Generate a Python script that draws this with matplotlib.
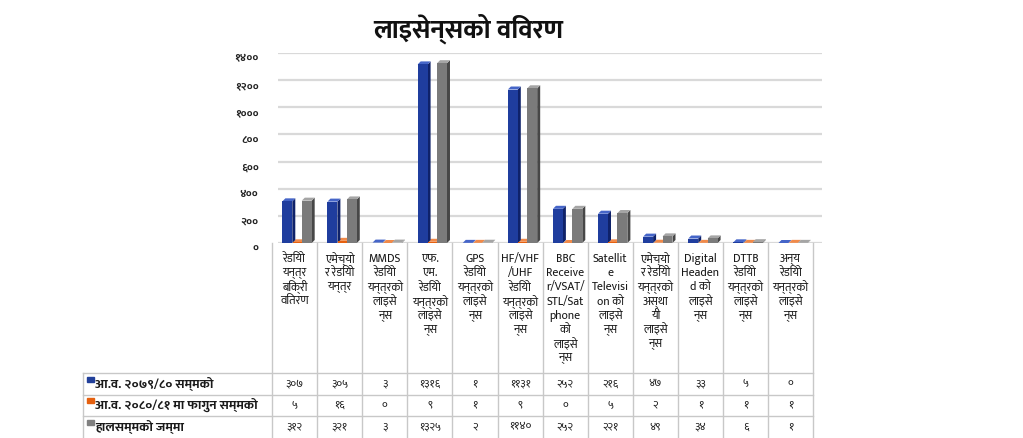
import matplotlib
matplotlib.use("Agg")
import matplotlib.pyplot as plt
from matplotlib.patches import Polygon, Rectangle
from matplotlib.transforms import ScaledTranslation

# --- data -----------------------------------------------------------------
title = "लाइसेन्सको विवरण"

categories = [
    ["रेडियो", "यन्त्र", "बिक्री", "वितरण"],
    ["एमेच्यो", "र रेडियो", "यन्त्र"],
    ["MMDS", "रेडियो", "यन्त्रको", "लाइसे", "न्स"],
    ["एफ.", "एम.", "रेडियो", "यन्त्रको", "लाइसे", "न्स"],
    ["GPS", "रेडियो", "यन्त्रको", "लाइसे", "न्स"],
    ["HF/VHF", "/UHF", "रेडियो", "यन्त्रको", "लाइसे", "न्स"],
    ["BBC", "Receive", "r/VSAT/", "STL/Sat", "phone", "को", "लाइसे", "न्स"],
    ["Satellit", "e", "Televisi", "on को", "लाइसे", "न्स"],
    ["एमेच्यो", "र रेडियो", "यन्त्रको", "अस्था", "यी", "लाइसे", "न्स"],
    ["Digital", "Headen", "d को", "लाइसे", "न्स"],
    ["DTTB", "रेडियो", "यन्त्रको", "लाइसे", "न्स"],
    ["अन्य", "रेडियो", "यन्त्रको", "लाइसे", "न्स"],
]

series_names = [
    "आ.व. २०७९/८० सम्मको",
    "आ.व. २०८०/८१ मा फागुन सम्मको",
    "हालसम्मको जम्मा",
]
until_2079_80 = [307, 305, 3, 1316, 1, 1131, 252, 216, 47, 33, 5, 0]
upto_falgun_2080_81 = [5, 16, 0, 9, 1, 9, 0, 5, 2, 1, 1, 1]
total_so_far = [312, 321, 3, 1325, 2, 1140, 252, 221, 49, 34, 6, 1]
series_values = [until_2079_80, upto_falgun_2080_81, total_so_far]

y_ticks = [0, 200, 400, 600, 800, 1000, 1200, 1400]

# --- style ----------------------------------------------------------------
FONT = ["Mukta", "Noto Sans Devanagari", "DejaVu Sans"]
plt.rcParams["font.family"] = FONT

front_colors = ["#1f3d9e", "#e5600f", "#7b7b7b"]
side_colors = ["#0f226a", "#a8420a", "#474747"]
top_colors = ["#4565c8", "#f08a4a", "#a5a5a5"]
key_colors = ["#22409a", "#e5600f", "#808080"]
grid_color = "#d9d9d9"
table_color = "#c8c8c8"

DEVA = str.maketrans("0123456789", "०१२३४५६७८९")


def deva(n):
    return str(n).translate(DEVA)


W, H = 1023, 438
fig = plt.figure(figsize=(W / 100, H / 100), dpi=100)

# table/category geometry in pixels
col0, col_w = 272.0, 45.1
plot_l, plot_r = 278.0, 822.0
floor_y, top_y = 243.0, 53.0

ax = fig.add_axes([plot_l / W, 1 - floor_y / H,
                   (plot_r - plot_l) / W, (floor_y - top_y) / H])
ax.set_xlim((plot_l - col0) / col_w, (plot_r - col0) / col_w)
ax.set_ylim(0, 1400)
for s in ax.spines.values():
    s.set_visible(False)
ax.set_xticks([])
ax.set_yticks(y_ticks)
ax.set_yticklabels([deva(v) for v in y_ticks], fontsize=8,
                   fontweight="bold", color="#222222")
ax.tick_params(axis="y", length=0, pad=14)
off = ScaledTranslation(0, -5 / 100, fig.dpi_scale_trans)
for lbl in ax.get_yticklabels():
    lbl.set_transform(lbl.get_transform() + off)
ax.grid(axis="y", color=grid_color, linewidth=1.6)
ax.set_axisbelow(True)

# 3-D looking columns
px_x = col_w              # pixels per category unit
px_y = (floor_y - top_y) / 1400.0
dx = 3.0 / px_x
dy = 3.0 / px_y
slots = [(0.23, 0.45), (0.46, 0.66), (0.66, 0.88)]
for si in [1, 0, 2]:
    vals = series_values[si]
    a, b = slots[si]
    for i, v in enumerate(vals):
        x0, x1 = i + a, i + b
        h = v
        ax.add_patch(Polygon([(x1, 0), (x1 + dx, dy), (x1 + dx, h + dy), (x1, h)],
                             closed=True, facecolor=side_colors[si],
                             edgecolor="none", clip_on=False, zorder=3))
        ax.add_patch(Polygon([(x0, h), (x0 + dx, h + dy), (x1 + dx, h + dy), (x1, h)],
                             closed=True, facecolor=top_colors[si],
                             edgecolor="none", clip_on=False, zorder=3))
    ax.bar([i + a for i in range(len(vals))], vals, width=b - a, align="edge",
           color=front_colors[si], zorder=4, clip_on=False)

# --- overlay for title and data table -------------------------------------
ov = fig.add_axes([0, 0, 1, 1])
ov.set_xlim(0, W)
ov.set_ylim(H, 0)
ov.axis("off")
ov.patch.set_alpha(0)

ov.text(468, 29, title, ha="center", va="center", fontsize=19,
        fontweight="bold", color="#111111")

n = len(categories)
edges = [col0 + col_w * i for i in range(n + 1)]
row_y = [373, 394.5, 416, 438]
leg_l = 83

for x in edges:
    ov.plot([x, x], [floor_y, H], color=table_color, lw=1)
ov.plot([leg_l, leg_l], [row_y[0], H], color=table_color, lw=1)
for y in row_y[:-1]:
    ov.plot([leg_l, edges[-1]], [y, y], color=table_color, lw=1)

line_step = 14.2
for i, lines in enumerate(categories):
    cx = (edges[i] + edges[i + 1]) / 2
    for k, t in enumerate(lines):
        ov.text(cx, 259 + k * line_step, t, ha="center", va="center",
                fontsize=8.5, color="#1a1a1a")

for r, (name, vals) in enumerate(zip(series_names, series_values)):
    cy = (row_y[r] + row_y[r + 1]) / 2
    ov.add_patch(Rectangle((leg_l + 4, cy - 7), 7, 5, color=key_colors[r]))
    ov.text(leg_l + 12, cy, name, ha="left", va="center", fontsize=9.5,
            fontweight="bold", color="#1a1a1a")
    for i, v in enumerate(vals):
        cx = (edges[i] + edges[i + 1]) / 2
        ov.text(cx, cy, deva(v), ha="center", va="center", fontsize=8,
                color="#1a1a1a")

fig.savefig("out.png", dpi=100)
